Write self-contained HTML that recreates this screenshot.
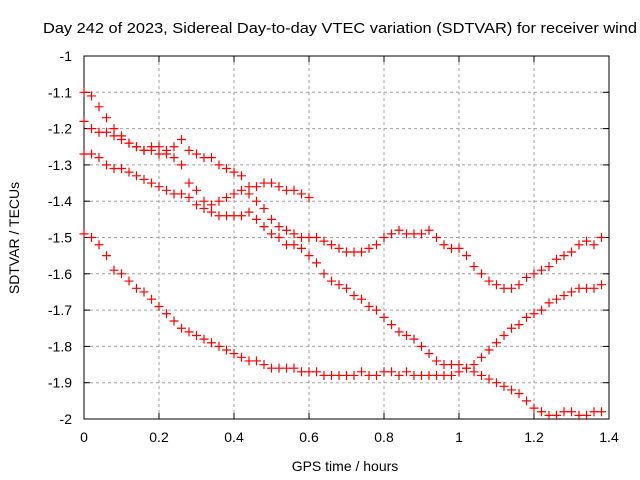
<!DOCTYPE html>
<html><head><meta charset="utf-8"><style>
body{margin:0;background:#fff}
svg{display:block;font-family:"Liberation Sans",sans-serif}
</style></head><body>
<svg id="chart" width="640" height="480" viewBox="0 0 640 480">
<text x="43" y="33" font-size="15" fill="#000" textLength="594" lengthAdjust="spacingAndGlyphs">Day 242 of 2023, Sidereal Day-to-day VTEC variation (SDTVAR) for receiver wind</text>
<g id="grid"></g>
<g id="axes"></g>
<g id="marks"></g>
<text x="345" y="471" font-size="14" text-anchor="middle">GPS time / hours</text>
<text transform="translate(19,238) rotate(-90)" font-size="14" text-anchor="middle">SDTVAR / TECUs</text>
</svg>
<script>
const xTicks=[0,0.2,0.4,0.6,0.8,1,1.2,1.4];
const xTickLabels=["0","0.2","0.4","0.6","0.8","1","1.2","1.4"];
const yTicks=[-1,-1.1,-1.2,-1.3,-1.4,-1.5,-1.6,-1.7,-1.8,-1.9,-2];
const yTickLabels=["-1","-1.1","-1.2","-1.3","-1.4","-1.5","-1.6","-1.7","-1.8","-1.9","-2"];
const s1x=[0,0.02,0.04,0.06,0.08,0.1,0.12,0.14,0.16,0.18,0.2,0.22,0.24,0.26,0.28,0.3,0.32,0.34,0.36,0.38,0.4,0.42,0.44,0.46,0.48,0.5,0.52,0.54,0.56,0.58,0.6];
const s1y=[-1.10,-1.11,-1.14,-1.17,-1.2,-1.22,-1.24,-1.25,-1.26,-1.26,-1.27,-1.27,-1.28,-1.3,-1.35,-1.37,-1.4,-1.41,-1.4,-1.39,-1.38,-1.37,-1.36,-1.36,-1.35,-1.35,-1.36,-1.37,-1.37,-1.38,-1.39];
const s2y=[-1.18,-1.2,-1.21,-1.21,-1.22,-1.23,-1.24,-1.25,-1.26,-1.25,-1.25,-1.26,-1.25,-1.23,-1.26,-1.27,-1.28,-1.28,-1.3,-1.31,-1.32,-1.33,-1.38,-1.4,-1.42,-1.45,-1.47,-1.48,-1.49,-1.5,-1.5,-1.5,-1.51,-1.52,-1.53,-1.54,-1.54,-1.54,-1.53,-1.52,-1.5,-1.49,-1.48,-1.49,-1.49,-1.49,-1.48,-1.5,-1.52,-1.53,-1.53,-1.55,-1.58,-1.6,-1.62,-1.63,-1.64,-1.64,-1.63,-1.61,-1.6,-1.59,-1.58,-1.56,-1.55,-1.54,-1.52,-1.51,-1.52,-1.5];
const s3y=[-1.27,-1.27,-1.28,-1.3,-1.31,-1.31,-1.32,-1.33,-1.34,-1.35,-1.36,-1.37,-1.38,-1.38,-1.39,-1.41,-1.42,-1.43,-1.44,-1.44,-1.44,-1.44,-1.43,-1.45,-1.47,-1.49,-1.5,-1.52,-1.52,-1.53,-1.55,-1.57,-1.6,-1.62,-1.63,-1.64,-1.66,-1.67,-1.69,-1.7,-1.72,-1.74,-1.76,-1.77,-1.78,-1.8,-1.82,-1.84,-1.85,-1.85,-1.85,-1.86,-1.87,-1.88,-1.89,-1.9,-1.91,-1.92,-1.93,-1.95,-1.97,-1.98,-1.99,-1.99,-1.98,-1.98,-1.99,-1.99,-1.98,-1.98];
const s4y=[-1.49,-1.5,-1.52,-1.55,-1.59,-1.6,-1.62,-1.64,-1.65,-1.67,-1.69,-1.71,-1.73,-1.75,-1.76,-1.77,-1.78,-1.79,-1.8,-1.81,-1.82,-1.83,-1.84,-1.84,-1.85,-1.86,-1.86,-1.86,-1.86,-1.87,-1.87,-1.87,-1.88,-1.88,-1.88,-1.88,-1.88,-1.87,-1.88,-1.88,-1.87,-1.87,-1.88,-1.87,-1.88,-1.88,-1.88,-1.88,-1.88,-1.88,-1.87,-1.86,-1.85,-1.83,-1.81,-1.79,-1.77,-1.75,-1.74,-1.72,-1.71,-1.7,-1.68,-1.67,-1.66,-1.65,-1.64,-1.64,-1.64,-1.63];
const longX=[0,0.02,0.04,0.06,0.08,0.1,0.12,0.14,0.16,0.18,0.2,0.22,0.24,0.26,0.28,0.3,0.32,0.34,0.36,0.38,0.4,0.42,0.44,0.46,0.48,0.5,0.52,0.54,0.56,0.58,0.6,0.62,0.64,0.66,0.68,0.7,0.72,0.74,0.76,0.78,0.8,0.82,0.84,0.86,0.88,0.9,0.92,0.94,0.96,0.98,1.0,1.02,1.04,1.06,1.08,1.1,1.12,1.14,1.16,1.18,1.2,1.22,1.24,1.26,1.28,1.3,1.32,1.34,1.36,1.38];

const L=84,R=609,T=56,B=419;
const xs=v=>L+(v-0)/1.4*(R-L);
const ys=v=>T+(-1-v)/1.0*(B-T);
const NS="http://www.w3.org/2000/svg";
function mk(tag,attrs,parent){const e=document.createElementNS(NS,tag);for(const k in attrs)e.setAttribute(k,attrs[k]);parent.appendChild(e);return e;}
const grid=document.getElementById('grid'),axes=document.getElementById('axes'),marks=document.getElementById('marks');
xTicks.forEach((t,i)=>{
  const x=xs(t);
  if(i>0&&i<xTicks.length-1){const g=mk('line',{x1:x,x2:x,y1:T,y2:B,stroke:'#a0a0a0','stroke-dasharray':'3,3'},grid);
  
  }
  mk('line',{x1:x,x2:x,y1:B,y2:B-6,stroke:'#000'},axes);
  mk('line',{x1:x,x2:x,y1:T,y2:T+6,stroke:'#000'},axes);
  const tx=mk('text',{x:x,y:442,'font-size':14,'text-anchor':'middle'},axes);
  tx.textContent=xTickLabels[i];
  
  
});
yTicks.forEach((t,i)=>{
  const y=ys(t);
  if(i>0&&i<yTicks.length-1){const g=mk('line',{x1:L,x2:R,y1:y,y2:y,stroke:'#a0a0a0','stroke-dasharray':'3,3'},grid);
  
  }
  mk('line',{x1:L,x2:L+6,y1:y,y2:y,stroke:'#000'},axes);
  mk('line',{x1:R,x2:R-6,y1:y,y2:y,stroke:'#000'},axes);
  const tx=mk('text',{x:72,y:y+5,'font-size':14,'text-anchor':'end'},axes);
  tx.textContent=yTickLabels[i];
  
  
});
const frame=mk('rect',{x:L,y:T,width:R-L,height:B-T,fill:'none',stroke:'#000'},axes);


const series=[[s1x,s1y],[longX,s2y],[longX,s3y],[longX,s4y]];
series.forEach(([xa,ya],si)=>{
  xa.forEach((xv,i)=>{
    const x=xs(xv),y=ys(ya[i]);
    const p=mk('path',{d:`M${x-4.5} ${y}H${x+4.5}M${x} ${y-4.5}V${y+4.5}`,stroke:'#ff0000','stroke-width':1.2,fill:'none'},marks);
    
    
  });
});
</script>
</body></html>
